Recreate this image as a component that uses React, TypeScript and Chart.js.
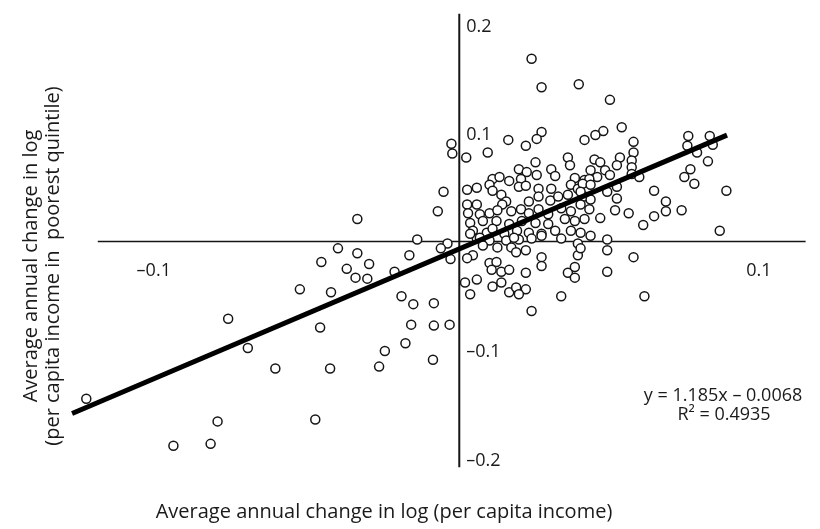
import { useEffect, useRef } from "react";
import { Chart, registerables } from "chart.js";

Chart.register(...registerables);

// Scatter observations (x: change in log per capita income, y: change in log income of poorest quintile)
const pointX = [
  0.0239, 0.0272, 0.0395, 0.0498, 0.0537, 0.0476, 0.0450, 0.0414, 0.0272, 0.0256, 0.0220, 0.0162, 0.0094, 0.0023, -0.0026, -0.0023,
  0.0576, 0.0576, 0.0570, 0.0757, 0.0828, 0.0838, 0.0754, 0.0786, 0.0822, 0.0764, 0.0744, 0.0777, 0.0883, 0.0644, 0.0683, 0.0683, 0.0735, 0.0644, 0.0608, 0.0861, 0.0595,
  -0.0052, -0.0071, -0.0139, -0.0039, -0.0061, -0.0029, -0.0337, -0.0401, -0.0337, -0.0456, -0.0298, -0.0165, -0.0372, -0.0343, -0.0304, -0.0214,
  -0.0527, -0.0424, -0.0191, -0.0152, -0.0084, -0.0159, -0.0084, -0.0032, -0.0460, -0.0178, -0.0246, -0.0087, -0.0608, -0.0427, -0.0265,
  -0.0764, -0.0699, -0.1233, -0.0799, -0.0476, -0.0945, -0.0822,
  0.0252, 0.0359, 0.0366, 0.0197, 0.0223, 0.0256, 0.0304, 0.0317, 0.0382, 0.0414, 0.0110, 0.0133, 0.0165, 0.0204, 0.0100, 0.0058, 0.0026, 0.0110,
  0.0197, 0.0220, 0.0262, 0.0304, 0.0369, 0.0392, 0.0139, 0.0155, 0.0142, 0.0230, 0.0262, 0.0301, 0.0327, 0.0359, 0.0414,
  0.0026, 0.0058, 0.0029, 0.0068, 0.0100, 0.0126, 0.0172, 0.0204, 0.0230, 0.0262, 0.0294, 0.0337, 0.0369, 0.0401,
  0.0036, 0.0078, 0.0123, 0.0165, 0.0207, 0.0252, 0.0294, 0.0349, 0.0382, 0.0414,
  0.0045, 0.0091, 0.0110, 0.0149, 0.0191, 0.0230, 0.0272, 0.0317, 0.0369, 0.0401,
  0.0058, 0.0100, 0.0155, 0.0197, 0.0239, 0.0337, 0.0392,
  0.0447, 0.0466, 0.0531, 0.0434, 0.0482, 0.0521, 0.0570, 0.0498, 0.0456, 0.0430, 0.0570, 0.0408, 0.0401, 0.0434, 0.0489, 0.0521,
  0.0434, 0.0521, 0.0430, 0.0515, 0.0560, 0.0466, 0.0434, 0.0489,
  0.0036, 0.0068, 0.0078, 0.0045, 0.0026, 0.0181, 0.0126, 0.0172, 0.0188, 0.0220, 0.0272,
  0.0100, 0.0123, 0.0107, 0.0139, 0.0165, 0.0220, 0.0019, 0.0058, 0.0110, 0.0139,
  0.0036, 0.0165, 0.0188, 0.0220, 0.0197, 0.0272, 0.0272, 0.0337, 0.0359, 0.0382, 0.0382, 0.0392, 0.0401,
  0.0489, 0.0489, 0.0576, 0.0612, 0.0239,
];
const pointY = [
  0.1685, 0.1423, 0.1450, 0.1306, 0.1054, 0.1018, 0.0982, 0.0937, 0.1009, 0.0946, 0.0883, 0.0937, 0.0820, 0.0775, 0.0901, 0.0811,
  0.0919, 0.0820, 0.0748, 0.0973, 0.0973, 0.0892, 0.0883, 0.0820, 0.0739, 0.0667, 0.0595, 0.0532, 0.0468, 0.0468, 0.0369, 0.0279, 0.0288, 0.0234, 0.0153, 0.0099, 0.0595,
  0.0459, 0.0279, 0.0018, -0.0018, -0.0063, -0.0162, 0.0207, -0.0063, -0.0108, -0.0189, -0.0207, -0.0126, -0.0252, -0.0333, -0.0342, -0.0279,
  -0.0441, -0.0468, -0.0505, -0.0577, -0.0568, -0.0766, -0.0775, -0.0766, -0.0793, -0.0937, -0.1009, -0.1090, -0.1171, -0.1171, -0.1153,
  -0.0712, -0.0982, -0.1450, -0.1658, -0.1640, -0.1883, -0.1865,
  0.0730, 0.0775, 0.0703, 0.0667, 0.0640, 0.0613, 0.0667, 0.0604, 0.0586, 0.0568, 0.0577, 0.0595, 0.0559, 0.0577, 0.0523, 0.0495, 0.0477, 0.0468,
  0.0505, 0.0514, 0.0486, 0.0486, 0.0523, 0.0486, 0.0432, 0.0369, 0.0342, 0.0369, 0.0414, 0.0378, 0.0414, 0.0432, 0.0414,
  0.0342, 0.0342, 0.0261, 0.0252, 0.0261, 0.0288, 0.0279, 0.0297, 0.0261, 0.0297, 0.0252, 0.0306, 0.0279, 0.0342,
  0.0171, 0.0189, 0.0189, 0.0162, 0.0189, 0.0171, 0.0162, 0.0207, 0.0189, 0.0207,
  0.0099, 0.0081, 0.0117, 0.0072, 0.0099, 0.0081, 0.0072, 0.0099, 0.0099, 0.0081,
  0.0027, 0.0009, 0.0009, 0.0018, 0.0027, 0.0027, -0.0018,
  0.0757, 0.0730, 0.0775, 0.0658, 0.0658, 0.0703, 0.0685, 0.0613, 0.0595, 0.0577, 0.0622, 0.0532, 0.0459, 0.0523, 0.0459, 0.0505,
  0.0387, 0.0396, 0.0297, 0.0288, 0.0261, 0.0216, 0.0054, 0.0018,
  0.0072, 0.0036, -0.0036, -0.0126, -0.0153, 0.0036, -0.0054, -0.0054, -0.0099, -0.0081, 0.0054,
  -0.0198, -0.0189, -0.0261, -0.0279, -0.0261, -0.0288, -0.0378, -0.0351, -0.0414, -0.0378,
  -0.0486, -0.0468, -0.0423, -0.0441, -0.0486, -0.0144, -0.0225, -0.0505, -0.0288, -0.0333, -0.0234, -0.0126, -0.0063,
  -0.0081, -0.0279, -0.0144, -0.0505, -0.0640,
];

// Linear fit shown on the chart
const fitSlope = 1.185;
const fitIntercept = -0.0068;
const fitXRange = [-0.128, 0.0885];
const equationLines = ["y = 1.185x – 0.0068", "R² = 0.4935"];

// Axes
const xTickValues = [-0.1, 0.1];
const xTickLabels = ["–0.1", "0.1"];
const yTickValues = [0.2, 0.1, -0.1, -0.2];
const yTickLabels = ["0.2", "0.1", "–0.1", "–0.2"];
const xAxisLineRange = [-0.1195, 0.1145];
const yAxisLineRange = [-0.208, 0.21];
const xTitle = "Average annual change in log (per capita income)";
const yTitleLines = ["Average annual change in log", "(per capita income in  poorest quintile)"];

const FONT = '"Open Sans", "Noto Sans", sans-serif';

const axesPlugin = {
  id: "crossAxes",
  beforeDraw(chart: any) {
    const { ctx, width, height } = chart;
    ctx.save();
    ctx.fillStyle = "#ffffff";
    ctx.fillRect(0, 0, width, height);
    ctx.restore();
  },
  beforeDatasetsDraw(chart: any) {
    const { ctx } = chart;
    const xs = chart.scales.x;
    const ys = chart.scales.y;
    ctx.save();
    ctx.strokeStyle = "#151515";
    ctx.lineWidth = 1.6;
    ctx.beginPath();
    ctx.moveTo(xs.getPixelForValue(xAxisLineRange[0]), ys.getPixelForValue(0));
    ctx.lineTo(xs.getPixelForValue(xAxisLineRange[1]), ys.getPixelForValue(0));
    ctx.stroke();
    ctx.lineWidth = 2;
    ctx.beginPath();
    ctx.moveTo(xs.getPixelForValue(0), ys.getPixelForValue(yAxisLineRange[1]));
    ctx.lineTo(xs.getPixelForValue(0), ys.getPixelForValue(yAxisLineRange[0]));
    ctx.stroke();
    ctx.restore();
  },
  afterDatasetsDraw(chart: any) {
    const { ctx } = chart;
    const xs = chart.scales.x;
    const ys = chart.scales.y;
    const x0 = xs.getPixelForValue(0);
    const y0 = ys.getPixelForValue(0);
    ctx.save();
    ctx.fillStyle = "#1a1a1a";
    ctx.font = `18px ${FONT}`;
    ctx.textBaseline = "middle";
    ctx.textAlign = "center";
    xTickValues.forEach((v, i) => {
      ctx.fillText(xTickLabels[i], xs.getPixelForValue(v) - 3, y0 + 29);
    });
    ctx.textAlign = "left";
    yTickValues.forEach((v, i) => {
      ctx.fillText(yTickLabels[i], x0 + 7, ys.getPixelForValue(v) + 2);
    });
    // equation
    ctx.font = `18px ${FONT}`;
    ctx.textAlign = "center";
    ctx.fillText(equationLines[0], 723, 396);
    ctx.fillText(equationLines[1], 724, 415);
    // x title
    ctx.font = `20px ${FONT}`;
    ctx.fillText(xTitle, 384, 512);
    // y title
    const yCenters = [31, 53];
    yTitleLines.forEach((t, i) => {
      ctx.save();
      ctx.translate(yCenters[i], 266);
      ctx.rotate(-Math.PI / 2);
      ctx.fillText(t, 0, 0);
      ctx.restore();
    });
    ctx.restore();
  },
};

export default function App() {
  const canvasRef = useRef<HTMLCanvasElement | null>(null);

  useEffect(() => {
    const canvas = canvasRef.current;
    if (!canvas) return;
    const scatterData = pointX.map((x, i) => ({ x, y: pointY[i] }));
    const fitData = fitXRange.map((x) => ({ x, y: fitSlope * x + fitIntercept }));
    const chart = new Chart(canvas, {
      type: "scatter",
      data: {
        datasets: [
          {
            type: "line",
            data: fitData,
            borderColor: "#000000",
            borderWidth: 5,
            pointRadius: 0,
            fill: false,
            order: 0,
          } as any,
          {
            data: scatterData,
            pointRadius: 4.5,
            pointBorderWidth: 1.5,
            pointBorderColor: "#151515",
            pointBackgroundColor: "#ffffff",
            order: 1,
          } as any,
        ],
      },
      options: {
        responsive: false,
        animation: false,
        layout: { padding: 0 },
        plugins: { legend: { display: false }, tooltip: { enabled: false } },
        scales: {
          x: { type: "linear", min: -0.14984, max: 0.11726, display: false },
          y: { type: "linear", min: -0.25946, max: 0.21712, display: false },
        },
      },
      plugins: [axesPlugin],
    });
    return () => chart.destroy();
  }, []);

  return (
    <div style={{ position: "absolute", left: 0, top: 0, width: 820, height: 529 }}>
      <canvas ref={canvasRef} width={820} height={529} />
    </div>
  );
}
